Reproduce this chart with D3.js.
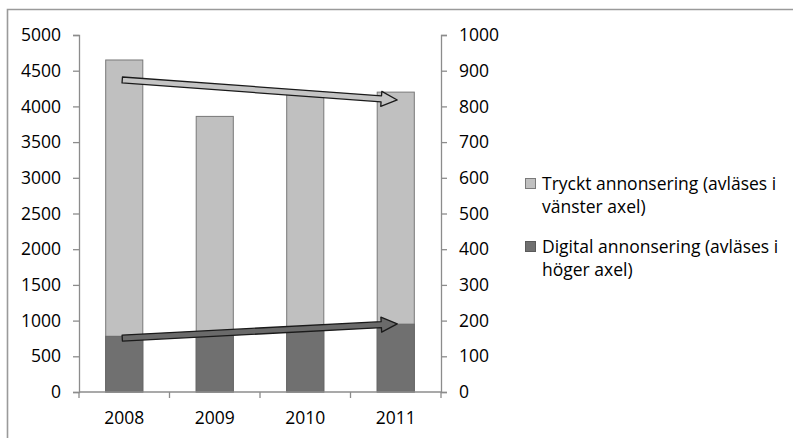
<!DOCTYPE html>
<html>
<head>
<meta charset="utf-8">
<script src="https://cdn.jsdelivr.net/npm/d3@7/dist/d3.min.js"></script>
<style>
  html, body { margin: 0; padding: 0; background: #fff; }
  svg { display: block; }
  text { font-family: "Open Sans", sans-serif; fill: #000; }
</style>
</head>
<body>
<svg id="chart" width="793" height="438"></svg>
<script>
// Annonsering per år: tryckt (vänster axel) och digital (höger axel)
const years = ["2008", "2009", "2010", "2011"];
const printValues = [4650, 3860, 4180, 4200];
const digitalValues = [156, 168, 178, 190];
const leftTicks = [0, 500, 1000, 1500, 2000, 2500, 3000, 3500, 4000, 4500, 5000];
const rightTicks = [0, 100, 200, 300, 400, 500, 600, 700, 800, 900, 1000];
// Trendpilar: start- och slutvärde (tryckt i vänster axel, digital i höger axel)
const printTrend = [4370, 4090];
const digitalTrend = [151, 191];
const legendItems = [
  { lines: ["Tryckt annonsering (avläses i", "vänster axel)"], color: "#c0c0c0", stroke: "#7a7a7a" },
  { lines: ["Digital annonsering (avläses i", "höger axel)"], color: "#707070", stroke: "#5a5a5a" }
];

const svg = d3.select("#chart");
const plot = { left: 79, right: 441, top: 35, bottom: 392 };
const fontSize = 17.5;

// Ram runt diagrammet
svg.append("path")
  .attr("d", "M7.5,438 V9.5 H793")
  .attr("fill", "none")
  .attr("stroke", "#9a9a9a")
  .attr("stroke-width", 1.6);

const x = d3.scaleBand().domain(years).range([plot.left, plot.right]).padding(0);
const barW = x.bandwidth() * 0.41;
const cx = d => x(d) + x.bandwidth() / 2;
const yL = d3.scaleLinear().domain([0, 5000]).range([plot.bottom, plot.top]);
const yR = d3.scaleLinear().domain([0, 1000]).range([plot.bottom, plot.top]);

// Staplar: tryckt bakom, digital framför
svg.append("g").selectAll("rect")
  .data(years.map((y, i) => ({ year: y, v: printValues[i] })))
  .join("rect")
  .attr("x", d => cx(d.year) - barW / 2)
  .attr("width", barW)
  .attr("y", d => yL(d.v))
  .attr("height", d => plot.bottom - yL(d.v))
  .attr("fill", "#c0c0c0")
  .attr("stroke", "#787878")
  .attr("stroke-width", 1);

svg.append("g").selectAll("rect")
  .data(years.map((y, i) => ({ year: y, v: digitalValues[i] })))
  .join("rect")
  .attr("x", d => cx(d.year) - barW / 2)
  .attr("width", barW)
  .attr("y", d => yR(d.v))
  .attr("height", d => plot.bottom - yR(d.v))
  .attr("fill", "#707070")
  .attr("stroke", "#666")
  .attr("stroke-width", 1);

// Axlar
function styleAxis(g) {
  g.selectAll(".domain").attr("stroke", "#8c8c8c").attr("stroke-width", 1.3);
  g.selectAll(".tick line").attr("stroke", "#8c8c8c").attr("stroke-width", 1.3);
  g.selectAll(".tick text").attr("font-size", fontSize).attr("fill", "#000")
    .attr("font-family", "'Open Sans', sans-serif");
}

svg.append("g")
  .attr("transform", `translate(${plot.left},0)`)
  .call(d3.axisLeft(yL).tickValues(leftTicks).tickSize(6).tickSizeOuter(6).tickPadding(12).tickFormat(d3.format("d")))
  .call(styleAxis);

svg.append("g")
  .attr("transform", `translate(${plot.right},0)`)
  .call(d3.axisRight(yR).tickValues(rightTicks).tickSize(6).tickSizeOuter(6).tickPadding(12).tickFormat(d3.format("d")))
  .call(styleAxis);

// X-axel med markeringar mellan kategorierna
const xAxis = svg.append("g");
xAxis.append("line")
  .attr("x1", plot.left).attr("x2", plot.right)
  .attr("y1", plot.bottom).attr("y2", plot.bottom)
  .attr("stroke", "#8c8c8c").attr("stroke-width", 1.3);
xAxis.selectAll("line.tk")
  .data(years.map(d => x(d)).concat([plot.right]))
  .join("line")
  .attr("class", "tk")
  .attr("x1", d => d).attr("x2", d => d)
  .attr("y1", plot.bottom).attr("y2", plot.bottom + 6)
  .attr("stroke", "#8c8c8c").attr("stroke-width", 1.3);
xAxis.selectAll("text")
  .data(years)
  .join("text")
  .attr("x", d => cx(d))
  .attr("y", 424)
  .attr("text-anchor", "middle")
  .attr("font-size", fontSize)
  .text(d => d);

// Trendpilar
function arrowPath(x0, y0, x1, y1) {
  const dx = x1 - x0, dy = y1 - y0;
  const len = Math.hypot(dx, dy);
  const ux = dx / len, uy = dy / len;
  const nx = -uy, ny = ux;
  const shaft = 3, head = 7.5, headLen = 16;
  const bx = x1 - ux * headLen, by = y1 - uy * headLen;
  const pts = [
    [x0 + nx * shaft, y0 + ny * shaft],
    [bx + nx * shaft, by + ny * shaft],
    [bx + nx * head, by + ny * head],
    [x1, y1],
    [bx - nx * head, by - ny * head],
    [bx - nx * shaft, by - ny * shaft],
    [x0 - nx * shaft, y0 - ny * shaft]
  ];
  return "M" + pts.map(p => p.join(",")).join("L") + "Z";
}

const first = years[0], last = years[years.length - 1];
svg.append("path")
  .attr("d", arrowPath(cx(first) - 2, yL(printTrend[0]), cx(last) + 1.5, yL(printTrend[1])))
  .attr("fill", "#c4c4c4")
  .attr("stroke", "#1a1a1a")
  .attr("stroke-width", 1.3)
  .attr("stroke-linejoin", "round");

svg.append("path")
  .attr("d", arrowPath(cx(first) - 2, yR(digitalTrend[0]), cx(last) + 1.5, yR(digitalTrend[1])))
  .attr("fill", "#6a6a6a")
  .attr("stroke", "#1a1a1a")
  .attr("stroke-width", 1.3)
  .attr("stroke-linejoin", "round");

// Teckenförklaring
const legend = svg.append("g");
const legendTop = [190, 253];
legendItems.forEach((item, i) => {
  const g = legend.append("g");
  g.append("rect")
    .attr("x", 525.5).attr("y", legendTop[i] - 11.5)
    .attr("width", 10).attr("height", 10)
    .attr("fill", item.color)
    .attr("stroke", item.stroke)
    .attr("stroke-width", 1);
  const t = g.append("text")
    .attr("x", 542)
    .attr("y", legendTop[i])
    .attr("font-size", fontSize);
  item.lines.forEach((ln, j) => {
    t.append("tspan").attr("x", 542).attr("dy", j === 0 ? 0 : 22.5).text(ln);
  });
});
</script>
</body>
</html>
